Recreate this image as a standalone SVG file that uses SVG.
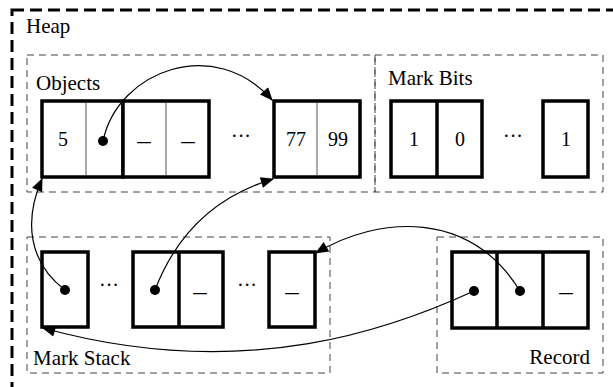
<svg xmlns="http://www.w3.org/2000/svg" width="613" height="387" viewBox="0 0 613 387">
<defs>
<style>
.heap{fill:none;stroke:#000;stroke-width:3;stroke-dasharray:12 6}
.region{fill:none;stroke:#444;stroke-width:1;stroke-dasharray:7 5}
.cell{fill:#fff;stroke:#000;stroke-width:3.5}
.thin{stroke:#555;stroke-width:1}
.thick{stroke:#000;stroke-width:3.5}
.lbl{font-family:"Liberation Serif","Times New Roman",serif;font-size:21px;fill:#000}
.val{font-family:"Liberation Serif","Times New Roman",serif;font-size:20px;fill:#000;text-anchor:middle}
.dash{font-family:"Liberation Serif","Times New Roman",serif;font-size:27px;fill:#000;text-anchor:middle}
.dot{fill:#000}
.conn{fill:none;stroke:#000;stroke-width:1.2}
</style>
<marker id="ah" viewBox="0 0 12 10" refX="11" refY="5" markerWidth="15" markerHeight="11" markerUnits="userSpaceOnUse" orient="auto">
<path d="M0,0 L12,5 L0,10 Z" fill="#000"/>
</marker>
</defs>
<rect fill="#fff" width="613" height="387"/>
<g id="heap">
<rect class="heap" x="12" y="10" width="620" height="400"/>
<text class="lbl" x="26" y="33">Heap</text>
</g>
<g id="objects">
<rect class="region" x="27" y="55" width="348" height="137"/>
<text class="lbl" x="36" y="90">Objects</text>
<rect class="cell" x="42" y="101" width="81" height="76"/>
<rect class="cell" x="123" y="101" width="86" height="76"/>
<line class="thin" x1="86" y1="103" x2="86" y2="175"/>
<line class="thin" x1="166" y1="103" x2="166" y2="175"/>
<text class="val" x="63" y="146">5</text>
<circle class="dot" cx="103" cy="141" r="5"/>
<text class="dash" x="144" y="149">–</text>
<text class="dash" x="188" y="149">–</text>
<text class="val" x="241" y="143">···</text>
<rect class="cell" x="274" y="101" width="86" height="76"/>
<line class="thin" x1="317" y1="103" x2="317" y2="175"/>
<text class="val" x="296" y="146">77</text>
<text class="val" x="338" y="146">99</text>
</g>
<g id="markbits">
<rect class="region" x="375" y="55" width="228" height="137"/>
<text class="lbl" x="388" y="85">Mark Bits</text>
<rect class="cell" x="391" y="101" width="91" height="76"/>
<line class="thick" x1="437" y1="101" x2="437" y2="177"/>
<text class="val" x="414" y="146">1</text>
<text class="val" x="460" y="146">0</text>
<text class="val" x="513" y="143">···</text>
<rect class="cell" x="543" y="101" width="45" height="76"/>
<text class="val" x="566" y="146">1</text>
</g>
<g id="markstack">
<rect class="region" x="27" y="237" width="303" height="136"/>
<text class="lbl" x="33" y="365">Mark Stack</text>
<rect class="cell" x="42" y="252" width="46" height="75"/>
<circle class="dot" cx="65" cy="290" r="5"/>
<text class="val" x="109" y="292">···</text>
<rect class="cell" x="133" y="252" width="90" height="75"/>
<line class="thick" x1="179" y1="252" x2="179" y2="327"/>
<circle class="dot" cx="155" cy="290" r="5"/>
<text class="dash" x="200" y="300">–</text>
<text class="val" x="247" y="292">···</text>
<rect class="cell" x="269" y="252" width="46" height="75"/>
<text class="dash" x="292" y="300">–</text>
</g>
<g id="record">
<rect class="region" x="437" y="237" width="166" height="136"/>
<text class="lbl" x="590" y="364" text-anchor="end">Record</text>
<rect class="cell" x="452" y="252" width="136" height="76"/>
<line class="thick" x1="497" y1="252" x2="497" y2="328"/>
<line class="thick" x1="543" y1="252" x2="543" y2="328"/>
<circle class="dot" cx="474" cy="291" r="5"/>
<circle class="dot" cx="520" cy="291" r="5"/>
<text class="dash" x="566" y="300">–</text>
</g>
<g id="connectors">
<path class="conn" marker-end="url(#ah)" d="M103,141 C118,70 215,35 272,100"/>
<path class="conn" marker-end="url(#ah)" d="M65,290 C28,262 24,220 42,179"/>
<path class="conn" marker-end="url(#ah)" d="M155,290 C178,230 220,195 273,179"/>
<path class="conn" marker-end="url(#ah)" d="M520,291 C470,210 380,215 316,253"/>
<path class="conn" marker-end="url(#ah)" d="M474,291 C400,325 250,385 43,328"/>
</g>
</svg>
